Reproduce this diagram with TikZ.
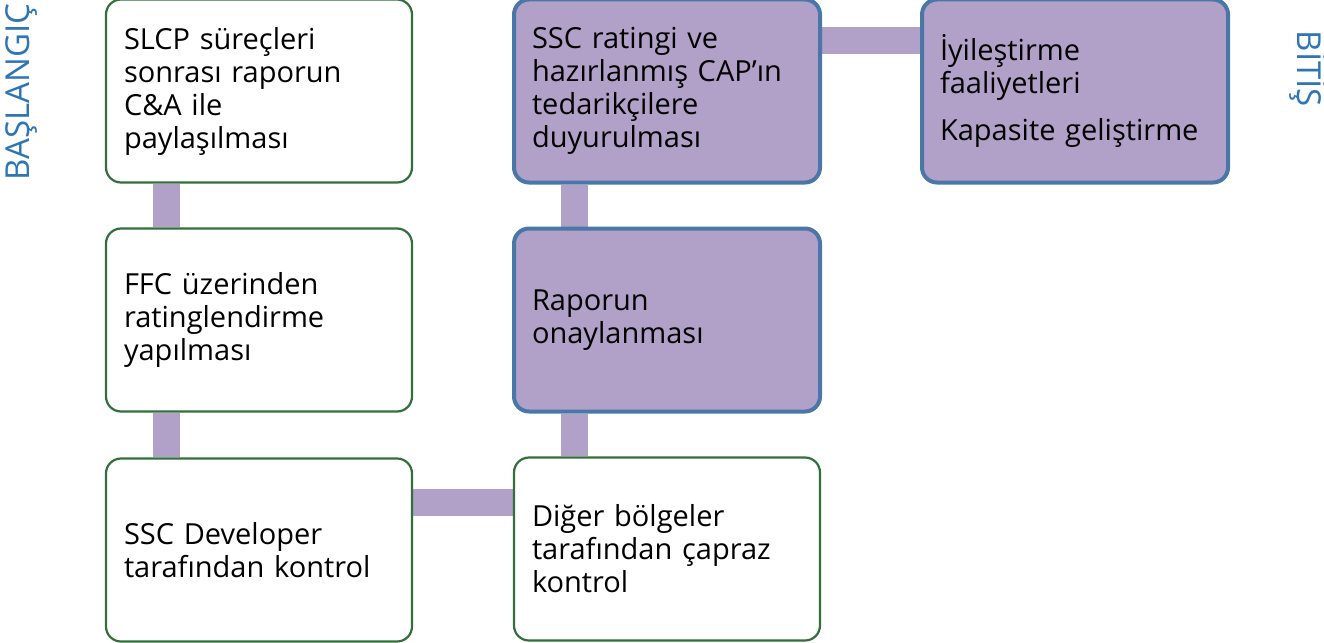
\documentclass[tikz,border=0pt]{standalone}
\usepackage{fontspec}
\setmainfont{Open Sans}
\usetikzlibrary{calc,backgrounds}
\definecolor{barpurple}{HTML}{B1A0C7}
\definecolor{boxgreen}{HTML}{31703A}
\definecolor{boxblue}{HTML}{4A76A8}
\definecolor{lblblue}{HTML}{2E75B6}
\tikzset{
  base/.style={rectangle, rounded corners=15pt, minimum width=306pt, minimum height=183pt,
    text width=270pt, align=left, inner xsep=18pt, font=\fontsize{29}{33}\selectfont, text=black},
  greenbox/.style={base, draw=boxgreen, line width=2.2pt, fill=white},
  bluebox/.style={base, draw=boxblue, line width=4pt, fill=barpurple},
  bar/.style={barpurple, line width=27pt},
  sidelbl/.style={text=lblblue, font=\fontsize{33}{38}\selectfont}
}
\begin{document}
\begin{tikzpicture}[x=1pt,y=-1pt]
\useasboundingbox (0,0) rectangle (1324,642);
\node[greenbox] (A) at (259,91) {SLCP süreçleri\\sonrası raporun\\C\&A ile\\paylaşılması};
\node[greenbox] (B) at (259,320) {FFC üzerinden\\ratinglendirme\\yapılması};
\node[greenbox] (C) at (259,550) {SSC Developer\\tarafından kontrol};
\node[greenbox] (D) at (667,549) {Diğer bölgeler\\tarafından çapraz\\kontrol};
\node[bluebox] (E) at (667,320) {Raporun\\onaylanması};
\node[bluebox] (F) at (667,91) {SSC ratingi ve\\hazırlanmış CAP’ın\\tedarikçilere\\duyurulması};
\node[bluebox] (G) at (1075,91) {İyileştirme\\faaliyetleri\\[14pt]Kapasite geliştirme};
\node[sidelbl, rotate=90] (start) at (22,92) {BAŞLANGIÇ};
\node[sidelbl, rotate=-90] (end) at (1308,69) {BİTİŞ};
\begin{scope}[on background layer]
\draw[bar] ($(A.south west)+(62,0)$) coordinate (a1) -- (a1 |- B.north);
\draw[bar] ($(B.south west)+(62,0)$) coordinate (b1) -- (b1 |- C.north);
\draw[bar] ($(C.north east)+(0,45)$) coordinate (c1) -- (c1 -| D.west);
\draw[bar] ($(D.north west)+(62,0)$) coordinate (d1) -- (d1 |- E.south);
\draw[bar] ($(E.north west)+(62,0)$) coordinate (e1) -- (e1 |- F.south);
\draw[bar] ($(F.north east)+(0,43)$) coordinate (f1) -- (f1 -| G.west);
\end{scope}
\end{tikzpicture}
\end{document}
